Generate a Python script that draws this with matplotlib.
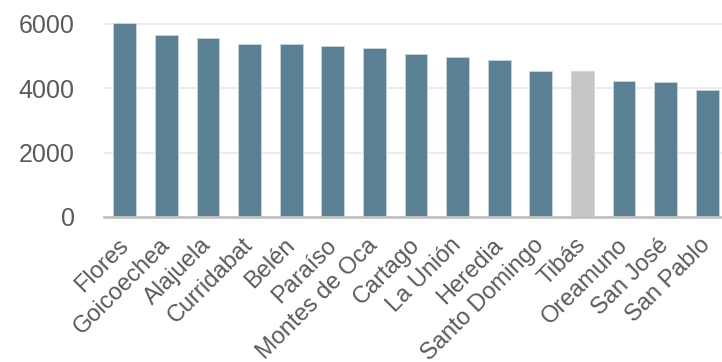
import matplotlib.pyplot as plt

cantones = ["Flores", "Goicoechea", "Alajuela", "Curridabat", "Belén", "Paraíso",
            "Montes de Oca", "Cartago", "La Unión", "Heredia", "Santo Domingo",
            "Tibás", "Oreamuno", "San José", "San Pablo"]
valores = [6015, 5640, 5550, 5375, 5370, 5300, 5240, 5055, 4970, 4860, 4525,
           4525, 4215, 4185, 3940]
resaltado = "Tibás"

plt.rcParams['font.family'] = ['Liberation Sans', 'DejaVu Sans']

fig = plt.figure(figsize=(7.22, 3.62), dpi=100)
ax = fig.add_axes([104 / 722, 145 / 362, 624 / 722, 203 / 362])

colores = ["#c6c6c6" if c == resaltado else "#5b7f93" for c in cantones]
x = range(len(cantones))
ax.bar(x, valores, width=0.55, color=colores, edgecolor="#c9d6de",
       linewidth=0.6, zorder=2)

ax.set_xlim(-0.5, len(cantones) - 0.5)
ax.set_ylim(0, 6300)
ax.set_yticks([0, 2000, 4000, 6000])
ax.grid(axis="y", color="#ececec", linewidth=1.5, zorder=0)
ax.set_axisbelow(True)

for side in ["top", "right", "left"]:
    ax.spines[side].set_visible(False)
ax.spines["bottom"].set_color("#c2c2c2")
ax.spines["bottom"].set_linewidth(2)
ax.spines["bottom"].set_zorder(3)

ax.tick_params(axis="both", length=0, colors="#5a5a5a")
ax.tick_params(axis="y", labelsize=18, pad=21)
ax.set_xticks(list(x))
ax.set_xticklabels(cantones, rotation=45, ha="right", va="center",
                   rotation_mode="anchor", fontsize=17)
ax.tick_params(axis="x", pad=18)

fig.savefig("out.png", dpi=100)
